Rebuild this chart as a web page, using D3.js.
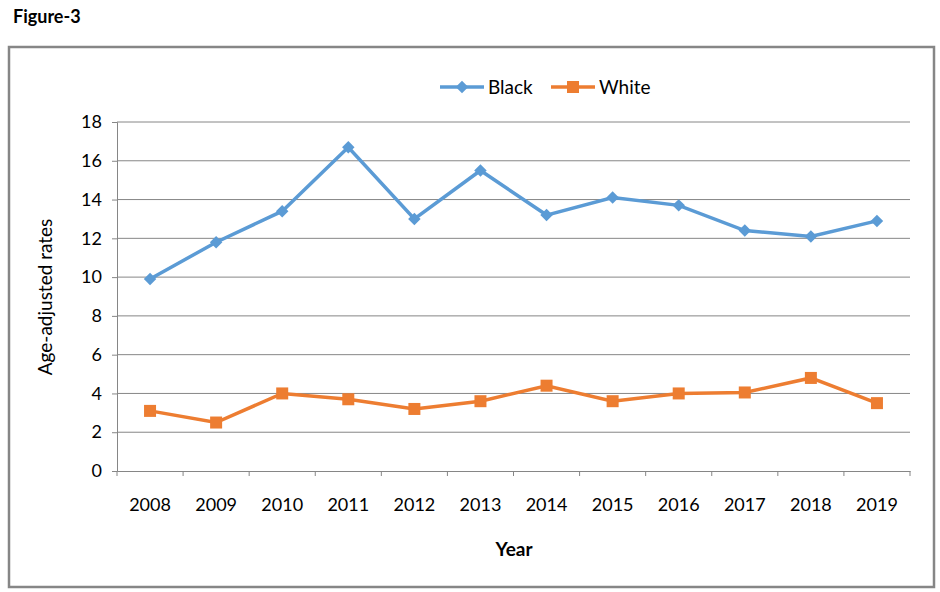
<!DOCTYPE html>
<html>
<head>
<meta charset="utf-8">
<title>Figure-3</title>
<style>
  body { margin: 0; background: #fff; }
  svg text { font-family: Lato, "Open Sans", sans-serif; fill: #000; }
</style>
</head>
<body>
<svg id="chart" width="940" height="592"></svg>
<script src="https://d3js.org/d3.v7.min.js"></script>
<script>
// data
var years = ["2008", "2009", "2010", "2011", "2012", "2013", "2014", "2015", "2016", "2017", "2018", "2019"];
var black = [9.9, 11.8, 13.4, 16.7, 13.0, 15.5, 13.2, 14.1, 13.7, 12.4, 12.1, 12.9];
var white = [3.1, 2.5, 4.0, 3.7, 3.2, 3.6, 4.4, 3.6, 4.0, 4.05, 4.8, 3.5];
var yTicks = [0, 2, 4, 6, 8, 10, 12, 14, 16, 18];
var seriesNames = ["Black", "White"];

(function() {
  var svg = d3.select("#chart");
  var pLeft = 117, pRight = 910, pTop = 122, pBottom = 471;

  // title + outer frame
  svg.append("text").attr("x", 13).attr("y", 23)
    .style("font-size", "18px").style("font-weight", "bold").text("Figure-3");
  svg.append("rect").attr("x", 9).attr("y", 47).attr("width", 925).attr("height", 540)
    .attr("fill", "none").attr("stroke", "#868686").attr("stroke-width", 2.5);

  var x = d3.scaleBand().domain(years).range([pLeft, pRight]);
  var y = d3.scaleLinear().domain([0, 18]).range([pBottom, pTop]);

  // gridlines
  svg.append("g").selectAll("line").data(yTicks.filter(function(d) { return d > 0; }))
    .enter().append("line")
    .attr("x1", pLeft).attr("x2", pRight)
    .attr("y1", function(d) { return y(d); }).attr("y2", function(d) { return y(d); })
    .attr("stroke", "#868686").attr("stroke-width", 1);

  // y axis
  var yAxis = svg.append("g").attr("transform", "translate(" + pLeft + ",0)")
    .call(d3.axisLeft(y).tickValues(yTicks).tickSize(5).tickPadding(10));
  yAxis.selectAll("text").style("font-size", "18px");

  // x axis with ticks on category boundaries
  var xAxis = svg.append("g").attr("transform", "translate(0," + pBottom + ")")
    .call(d3.axisBottom(x).tickSize(0).tickPadding(27));
  xAxis.selectAll("text").style("font-size", "18px");
  xAxis.selectAll(".boundary").data(d3.range(years.length + 1)).enter().append("line")
    .attr("class", "boundary")
    .attr("x1", function(i) { return pLeft + i * x.step(); })
    .attr("x2", function(i) { return pLeft + i * x.step(); })
    .attr("y1", 0).attr("y2", 5).attr("stroke", "#868686");

  svg.selectAll(".domain").attr("stroke", "#868686");
  svg.selectAll(".tick line").attr("stroke", "#868686");

  // axis titles
  svg.append("text").attr("transform", "translate(52,297) rotate(-90)")
    .attr("text-anchor", "middle").style("font-size", "19px").text("Age-adjusted rates");
  svg.append("text").attr("x", 514).attr("y", 556).attr("text-anchor", "middle")
    .style("font-size", "19px").style("font-weight", "bold").text("Year");

  var cx = function(d, i) { return x(years[i]) + x.bandwidth() / 2; };
  var line = d3.line().x(cx).y(function(d) { return y(d); });

  // Black series
  svg.append("path").datum(black).attr("d", line)
    .attr("fill", "none").attr("stroke", "#5B9BD5").attr("stroke-width", 3.5);
  svg.append("g").selectAll("path").data(black).enter().append("path")
    .attr("d", d3.symbol().type(d3.symbolSquare).size(78))
    .attr("transform", function(d, i) { return "translate(" + cx(d, i) + "," + y(d) + ") rotate(45)"; })
    .attr("fill", "#5B9BD5");

  // White series
  svg.append("path").datum(white).attr("d", line)
    .attr("fill", "none").attr("stroke", "#ED7D31").attr("stroke-width", 3.5);
  svg.append("g").selectAll("rect").data(white).enter().append("rect")
    .attr("x", function(d, i) { return cx(d, i) - 6; })
    .attr("y", function(d) { return y(d) - 6; })
    .attr("width", 12).attr("height", 12).attr("fill", "#ED7D31");

  // legend
  var legend = svg.append("g");
  var lx = [440, 551];
  var colors = ["#5B9BD5", "#ED7D31"];
  seriesNames.forEach(function(name, i) {
    legend.append("line").attr("x1", lx[i]).attr("x2", lx[i] + 44).attr("y1", 87).attr("y2", 87)
      .attr("stroke", colors[i]).attr("stroke-width", 3.5);
    if (i === 0) {
      legend.append("path").attr("d", d3.symbol().type(d3.symbolSquare).size(78))
        .attr("transform", "translate(" + (lx[i] + 22) + ",87) rotate(45)").attr("fill", colors[i]);
    } else {
      legend.append("rect").attr("x", lx[i] + 16).attr("y", 81).attr("width", 12).attr("height", 12)
        .attr("fill", colors[i]);
    }
    legend.append("text").attr("x", lx[i] + 48).attr("y", 94).style("font-size", "19px").text(name);
  });
})();
</script>
</body>
</html>
